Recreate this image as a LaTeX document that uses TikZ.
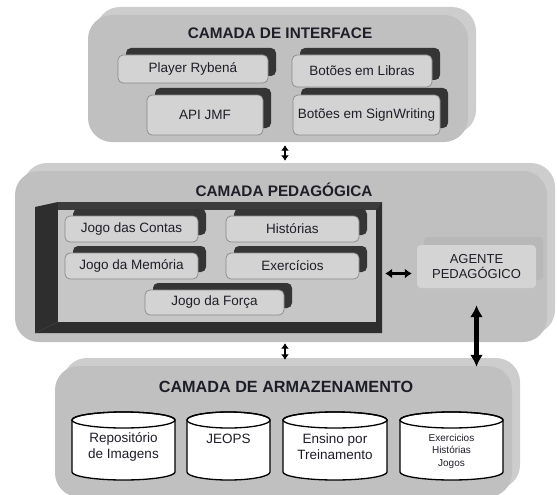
\documentclass[tikz,border=0pt]{standalone}
\usepackage{fontspec}
\setmainfont{Liberation Sans}
\usetikzlibrary{arrows.meta,shadows,calc}
\definecolor{layerface}{HTML}{C0C0C0}
\definecolor{layerback}{HTML}{CDCDCD}
\definecolor{boxface}{HTML}{D3D3D3}
\definecolor{boxedge}{HTML}{8A8A8A}
\definecolor{boxback}{HTML}{353535}
\definecolor{agentface}{HTML}{D4D4D4}
\definecolor{agentback}{HTML}{B8B8B8}
\definecolor{framedark}{HTML}{2E2E2E}
\definecolor{frametop}{HTML}{3C3C3C}
\definecolor{frameinner}{HTML}{C6C6C6}
\definecolor{txt}{HTML}{1E1E28}
\newcommand\cylshape[2]{%
  \path[fill=white,draw=black,line width=1.3pt]
    ({#1-#2},420) -- ({#1-#2},472)
    arc[start angle=180,end angle=360,x radius=#2pt,y radius=8pt]
    -- ({#1+#2},420)
    arc[start angle=0,end angle=180,x radius=#2pt,y radius=8pt] -- cycle;
  \draw[black,line width=1.3pt] (#1,420) ellipse[x radius=#2pt,y radius=8pt];}
\begin{document}
\begin{tikzpicture}[x=1pt,y=-1pt,
  layer/.style={fill=layerface, rounded corners=24pt, inner sep=0pt,
    general shadow={fill=layerback, shadow xshift=8pt, shadow yshift=8pt}},
  title/.style={font=\bfseries\fontsize{15.3}{17}\selectfont, text=txt, inner sep=0pt},
  box3d/.style={fill=boxface, draw=boxedge, line width=0.7pt, rounded corners=5pt,
    inner sep=1pt, text=txt, font=\fontsize{13.5}{15}\selectfont,
    general shadow={fill=boxback, shadow xshift=8pt, shadow yshift=7pt}},
  agentbox/.style={fill=agentface, rounded corners=4pt, inner sep=1pt, text=txt,
    align=center, font=\fontsize{13}{15}\selectfont,
    general shadow={fill=agentback, shadow xshift=7pt, shadow yshift=8pt}},
  cyltext/.style={text=txt, align=center, inner sep=0pt, font=\fontsize{13.5}{16}\selectfont},
  arrS/.style={line width=2.4pt, {Latex[length=5.5pt,width=8pt]}-{Latex[length=5.5pt,width=8pt]}},
  arrM/.style={line width=3pt, {Latex[length=7pt,width=10pt]}-{Latex[length=7pt,width=10pt]}},
  arrL/.style={line width=4.5pt, {Latex[length=12pt,width=13pt]}-{Latex[length=12pt,width=13pt]}}
]
\useasboundingbox (0,0) rectangle (557,495);

% layers
\node[layer, minimum width=380pt, minimum height=127pt] (iface) at (278,78.5) {};
\node[layer, minimum width=532pt, minimum height=171pt] (ped) at (281,256.5) {};
\node[layer, minimum width=457pt, minimum height=131pt] (store) at (283.5,431.5) {};

% titles
\node[title] (tiface) at (280,33) {CAMADA DE INTERFACE};
\node[title] (tped) at (284,190) {CAMADA PEDAGÓGICA};
\node[title, font=\bfseries\fontsize{16.2}{18}\selectfont] (tstore) at (286,387) {CAMADA DE ARMAZENAMENTO};

% interface boxes
\node[box3d, minimum width=150pt, minimum height=28pt] (player) at (193,69) {Player Rybená};
\node[box3d, minimum width=140pt, minimum height=32pt] (libras) at (362,71) {Botões em Libras};
\node[box3d, minimum width=116pt, minimum height=40pt] (jmf) at (205,115) {API JMF};
\node[box3d, minimum width=147pt, minimum height=40pt] (sign) at (366.5,115) {Botões em SignWriting};

% pedagogical frame
\fill[framedark] (35,207) -- (58,202) -- (382,202) -- (382,333) -- (35,333) -- cycle;
\fill[frametop] (58,202) -- (382,202) -- (376,210) -- (58,210) -- cycle;
\fill[frameinner] (58,210) rectangle (376,322);
\draw[frametop, line width=0.8pt] (35,333) -- (58,322);
\node[inner sep=0pt, minimum width=347pt, minimum height=131pt] (frame) at (208.5,267.5) {};

\node[box3d, minimum width=133pt, minimum height=26pt] (contas) at (131.5,229) {Jogo das Contas};
\node[box3d, minimum width=133pt, minimum height=26pt] (hist) at (292.5,229) {Histórias};
\node[box3d, minimum width=133pt, minimum height=26pt] (mem) at (131.5,266) {Jogo da Memória};
\node[box3d, minimum width=133pt, minimum height=26pt] (exer) at (292.5,266) {Exercícios};
\node[box3d, minimum width=139pt, minimum height=25pt] (forca) at (214.5,302.5) {Jogo da Força};

\node[agentbox, minimum width=119pt, minimum height=43pt] (agent) at (476.5,266.5) {AGENTE\\PEDAGÓGICO};

% storage cylinders
\cylshape{123.5}{51.5}
\cylshape{228.5}{41.5}
\cylshape{335}{52}
\cylshape{451.5}{51.5}
\node[inner sep=0pt, minimum width=103pt, minimum height=60pt] (repo) at (123.5,446) {};
\node[inner sep=0pt, minimum width=83pt, minimum height=60pt] (jeops) at (228.5,446) {};
\node[inner sep=0pt, minimum width=104pt, minimum height=60pt] (ensino) at (335,446) {};
\node[inner sep=0pt, minimum width=103pt, minimum height=60pt] (dados) at (451.5,446) {};
\node[cyltext] (trepo) at (123.5,447) {Repositório\\de Imagens};
\node[cyltext] (tjeops) at (228.5,439) {JEOPS};
\node[cyltext] (tensino) at (335,447) {Ensino por\\Treinamento};
\node[cyltext, font=\fontsize{10}{12.5}\selectfont] (tdados) at (451.5,451) {Exercicios\\Histórias\\Jogos};

% connectors
\draw[arrS, shorten <=3pt, shorten >=10pt] ([xshift=7pt]iface.south) -- ([xshift=7pt]iface.south |- ped.north);
\draw[arrS, shorten <=1pt, shorten >=6pt] ([xshift=4pt]ped.south) -- ([xshift=4pt]ped.south |- store.north);
\draw[arrM, shorten <=3pt, shorten >=5pt] ([yshift=-6pt]frame.east) -- ([yshift=-6pt]frame.east -| agent.west);
\draw[arrL, shorten <=17pt, shorten >=-1pt] (agent.south) -- (agent.south |- store.north);
\end{tikzpicture}
\end{document}
